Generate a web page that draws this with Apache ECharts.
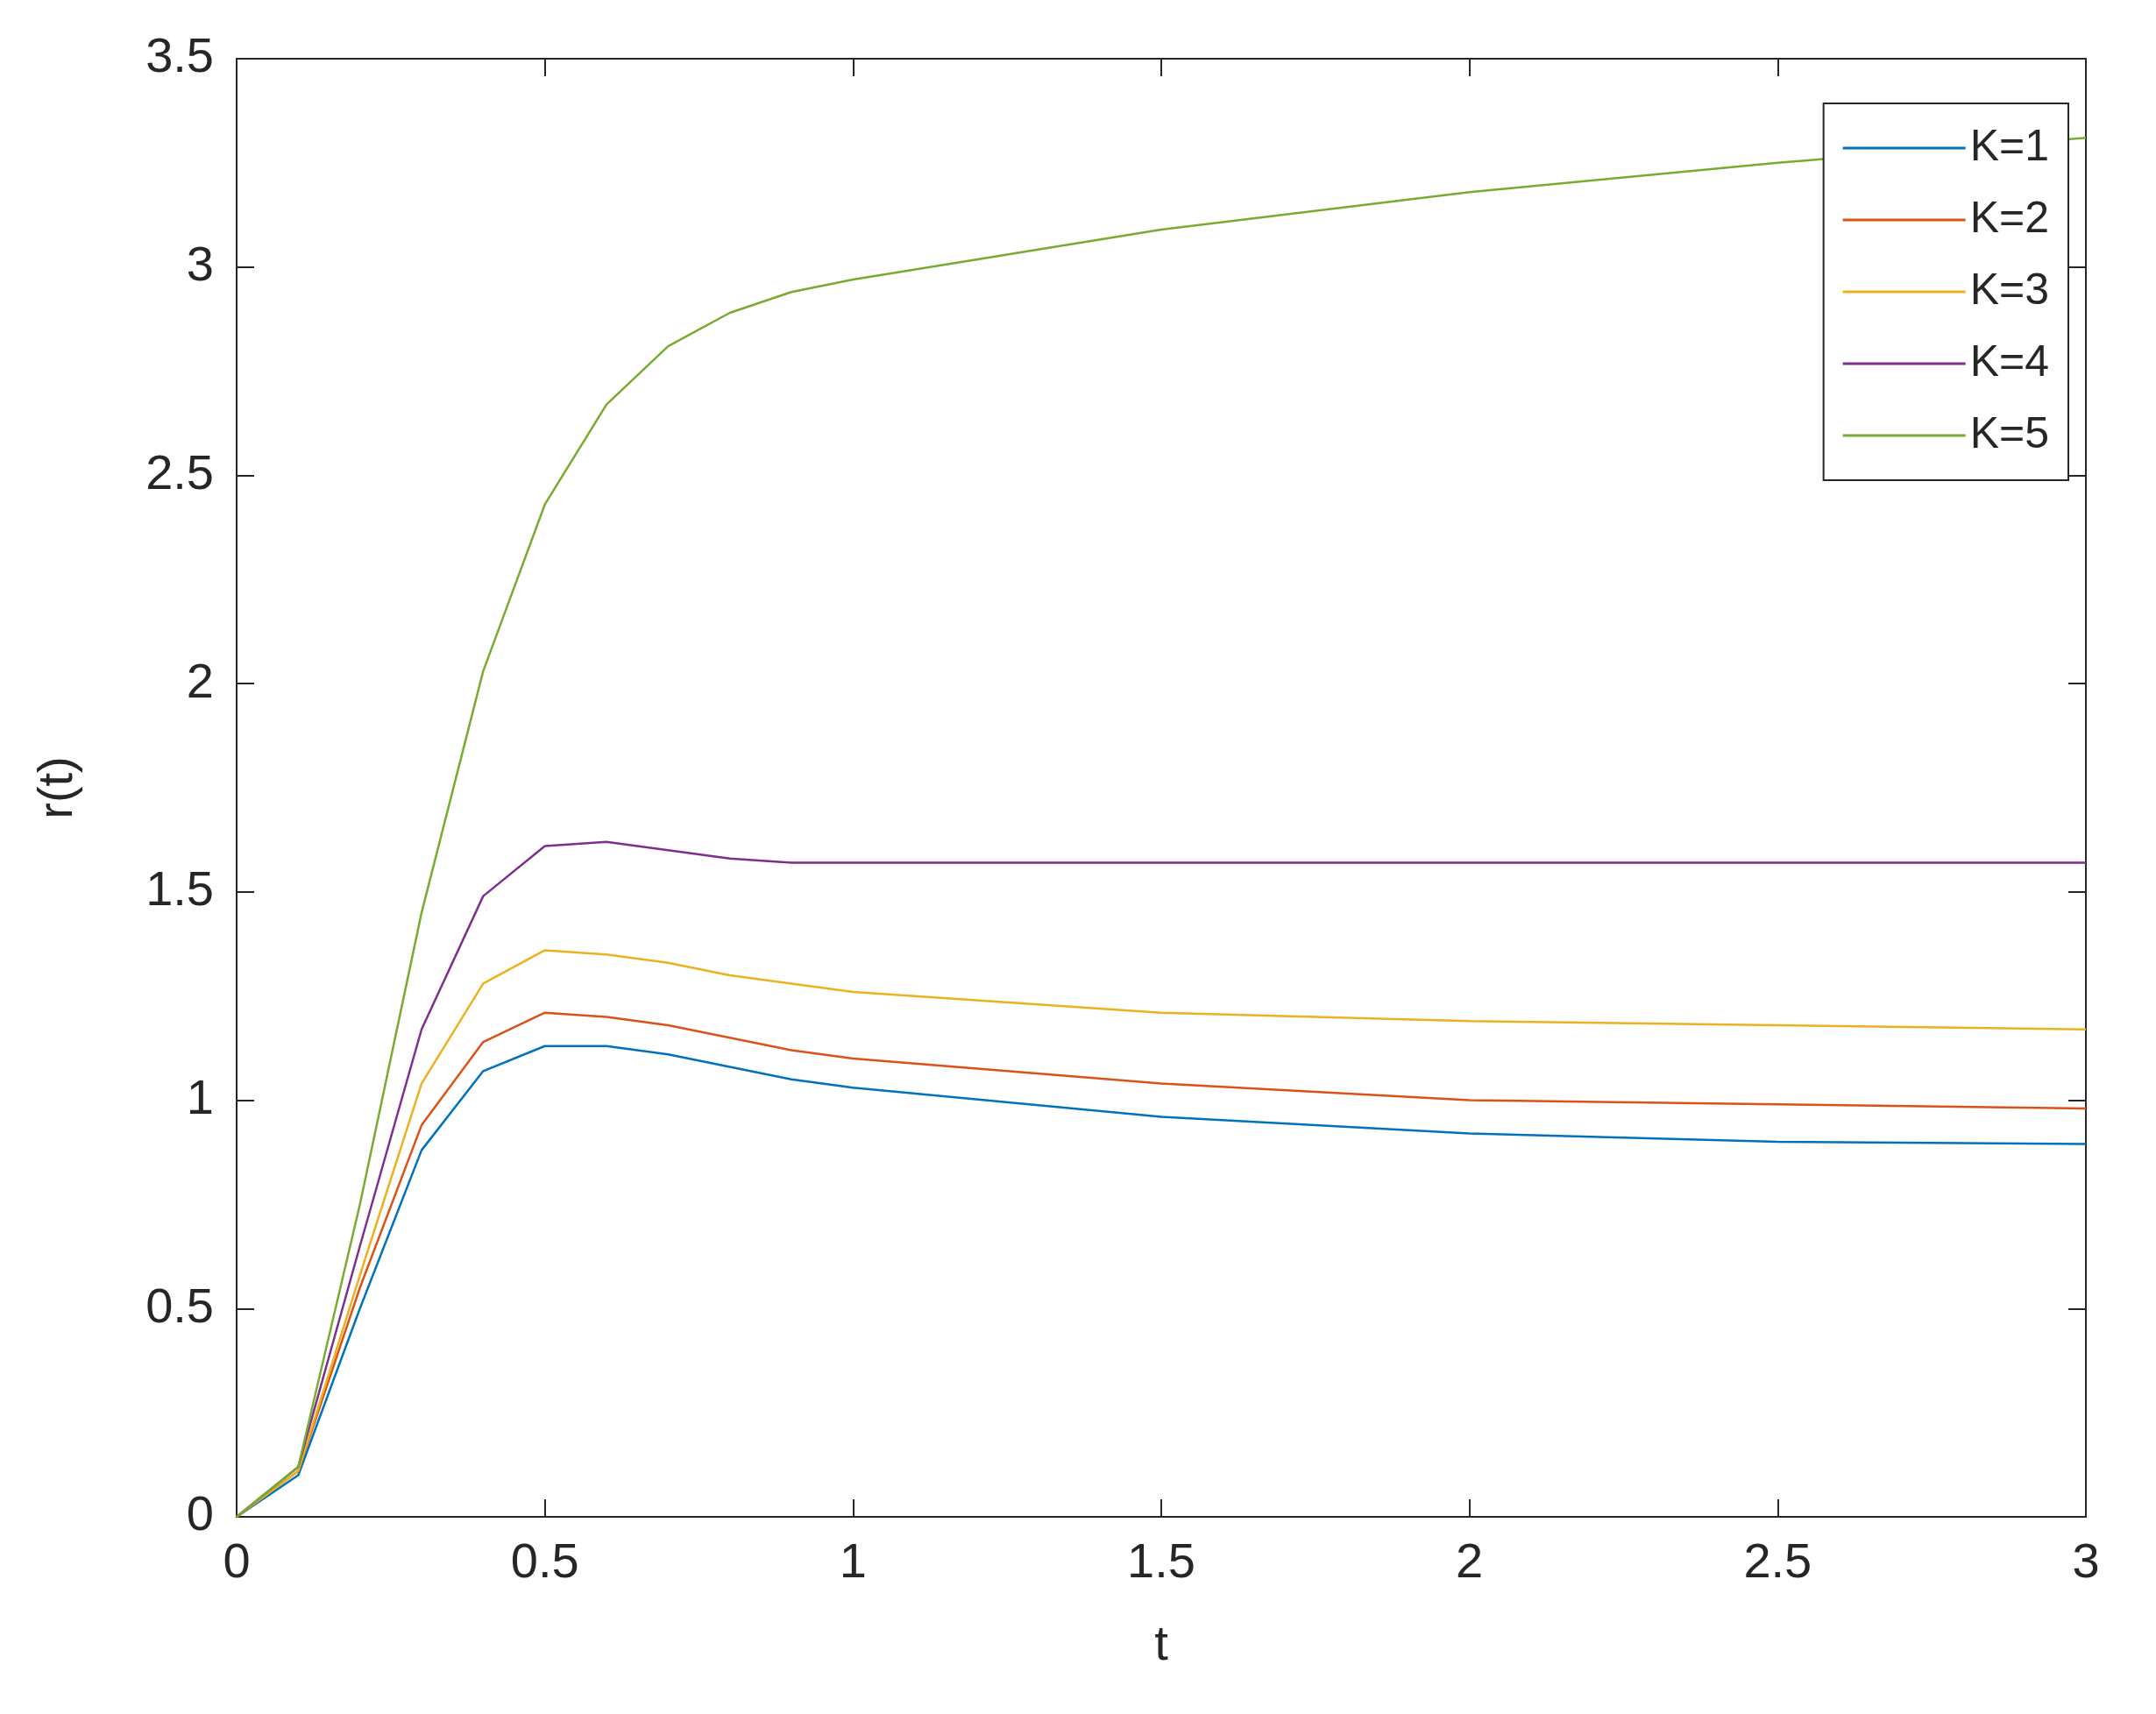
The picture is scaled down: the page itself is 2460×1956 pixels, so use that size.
<!DOCTYPE html>
<html><head><meta charset="utf-8">
<script src="https://cdn.jsdelivr.net/npm/echarts@6/dist/echarts.min.js"></script>
<style>html,body{margin:0;background:#fff}#main{width:2460px;height:1956px}</style>
</head><body><div id="main"></div>
<script>
var tValues = [0, 0.1, 0.2, 0.3, 0.4, 0.5, 0.6, 0.7, 0.8, 0.9, 1.0, 1.5, 2.0, 2.5, 3.0];
var k1 = [0, 0.10, 0.50, 0.88, 1.07, 1.13, 1.13, 1.11, 1.08, 1.05, 1.03, 0.96, 0.92, 0.90, 0.895];
var k2 = [0, 0.11, 0.55, 0.94, 1.14, 1.21, 1.20, 1.18, 1.15, 1.12, 1.10, 1.04, 1.00, 0.99, 0.98];
var k3 = [0, 0.11, 0.58, 1.04, 1.28, 1.36, 1.35, 1.33, 1.30, 1.28, 1.26, 1.21, 1.19, 1.18, 1.17];
var k4 = [0, 0.12, 0.65, 1.17, 1.49, 1.61, 1.62, 1.60, 1.58, 1.57, 1.57, 1.57, 1.57, 1.57, 1.57];
var k5 = [0, 0.12, 0.75, 1.45, 2.03, 2.43, 2.67, 2.81, 2.89, 2.94, 2.97, 3.09, 3.18, 3.25, 3.31];
var names = ['K=1', 'K=2', 'K=3', 'K=4', 'K=5'];
var colors = ['#0072BD', '#D95319', '#EDB120', '#7E2F8E', '#77AC30'];
var allSeries = [k1, k2, k3, k4, k5];

var chart = echarts.init(document.getElementById('main'));
var font = 'Liberation Sans, Arial, sans-serif';
function pairs(ys) { return ys.map(function (y, i) { return [tValues[i], y]; }); }
var tick = { show: true, inside: true, length: 20, lineStyle: { color: '#262626', width: 2 } };
var line = { show: true, onZero: false, lineStyle: { color: '#262626', width: 2 } };
var lab = { color: '#262626', fontSize: 56, fontFamily: font };

chart.setOption({
  animation: false,
  grid: { left: 270, right: 80, top: 67, bottom: 225 },
  legend: {
    orient: 'vertical', right: 100, top: 118,
    data: names, icon: 'rect', itemWidth: 140, itemHeight: 3, itemGap: 32,
    backgroundColor: '#fff', borderColor: '#262626', borderWidth: 2,
    padding: [26, 22, 26, 22],
    textStyle: { fontSize: 50, fontFamily: font, color: '#262626' }
  },
  xAxis: [
    { type: 'value', min: 0, max: 3, interval: 0.5, position: 'bottom',
      axisLine: line, axisTick: tick, splitLine: { show: false },
      axisLabel: Object.assign({ margin: 26 }, lab),
      name: 't', nameLocation: 'middle', nameGap: 120, nameTextStyle: lab },
    { type: 'value', min: 0, max: 3, interval: 0.5, position: 'top',
      axisLine: line, axisTick: tick, splitLine: { show: false }, axisLabel: { show: false } }
  ],
  yAxis: [
    { type: 'value', min: 0, max: 3.5, interval: 0.5, position: 'left',
      axisLine: line, axisTick: tick, splitLine: { show: false },
      axisLabel: Object.assign({ margin: 26 }, lab),
      name: 'r(t)', nameLocation: 'middle', nameGap: 175, nameTextStyle: lab },
    { type: 'value', min: 0, max: 3.5, interval: 0.5, position: 'right',
      axisLine: line, axisTick: tick, splitLine: { show: false }, axisLabel: { show: false } }
  ],
  series: allSeries.map(function (ys, i) {
    return { name: names[i], type: 'line', data: pairs(ys), showSymbol: false,
      color: colors[i], lineStyle: { width: 2.5, color: colors[i] } };
  })
});
</script></body></html>
